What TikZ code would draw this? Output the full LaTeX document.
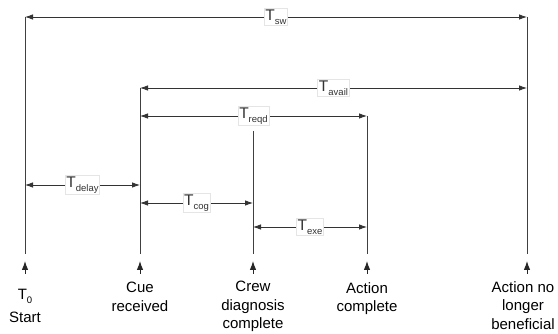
\documentclass[tikz,border=0pt]{standalone}
\usepackage{fontspec}
\setmainfont{Liberation Sans}
\usetikzlibrary{arrows.meta, positioning}

\newcommand{\tsub}[1]{T\raisebox{-0.45ex}{\fontsize{9.5}{10}\selectfont #1}}

\tikzset{
    timeline/.style={line width=0.8pt, black!75},
    span/.style={line width=0.8pt, black!80, {Latex[length=8pt,width=5.5pt]}-{Latex[length=8pt,width=5.5pt]}},
    pointer/.style={line width=0.9pt, black!85, -{Latex[length=9pt,width=6.5pt]}},
    spanlabel/.style={fill=white, draw=black!10, inner sep=1.2pt, font=\fontsize{15.5}{18}\selectfont},
    eventlabel/.style={align=center, inner sep=0pt, anchor=north, font=\fontsize{15}{18.5}\selectfont}
}

\begin{document}
\begin{tikzpicture}[x=1pt, y=-1pt]

    % Frame
    \useasboundingbox (0,0) rectangle (558,334);

    % Time lines
    \coordinate (start top) at (25,17);
    \coordinate (start bot) at (25,254);
    \coordinate (cue top) at (140,88);
    \coordinate (cue bot) at (140,254);
    \coordinate (crew top) at (253,131);
    \coordinate (crew bot) at (253,254);
    \coordinate (act top) at (367,116);
    \coordinate (act bot) at (367,254);
    \coordinate (end top) at (527,17);
    \coordinate (end bot) at (527,254);

    \draw[timeline] (start top) -- (start bot);
    \draw[timeline] (cue top) -- (cue bot);
    \draw[timeline] (crew top) -- (crew bot);
    \draw[timeline] (act top) -- (act bot);
    \draw[timeline] (end top) -- (end bot);

    % Intervals
    \draw[span] (start top) -- (end top)
        node[spanlabel, midway] (tsw) {\tsub{sw}};
    \draw[span] (cue top) -- (527,88)
        node[spanlabel, midway] (tavail) {\tsub{avail}};
    \draw[span] (140,116) -- (act top)
        node[spanlabel, midway] (treqd) {\tsub{reqd}};
    \draw[span] (25,185) -- (140,185)
        node[spanlabel, midway] (tdelay) {\tsub{delay}};
    \draw[span] (140,203) -- (253,203)
        node[spanlabel, midway] (tcog) {\tsub{cog}};
    \draw[span] (253,227) -- (367,227)
        node[spanlabel, midway] (texe) {\tsub{exe}};

    % Events
    \coordinate (start tail) at (25,274);
    \coordinate (cue tail) at (140,274);
    \coordinate (crew tail) at (253,274);
    \coordinate (act tail) at (367,274);
    \coordinate (end tail) at (527,274);

    \draw[pointer] (start tail) -- (25,261);
    \draw[pointer] (cue tail) -- (140,261);
    \draw[pointer] (crew tail) -- (253,261);
    \draw[pointer] (act tail) -- (367,261);
    \draw[pointer] (end tail) -- (527,261);

    \node[eventlabel] (t0) at (25,289) {\tsub{0}};
    \node[eventlabel] (start) at (25,312) {Start};
    \node[eventlabel] (cue) at (140,282) {Cue\\received};
    \node[eventlabel] (crew) at (253,281) {Crew\\diagnosis\\complete};
    \node[eventlabel] (act) at (367,282) {Action\\complete};
    \node[eventlabel] (end) at (523,281) {Action no\\longer\\beneficial};

\end{tikzpicture}
\end{document}
